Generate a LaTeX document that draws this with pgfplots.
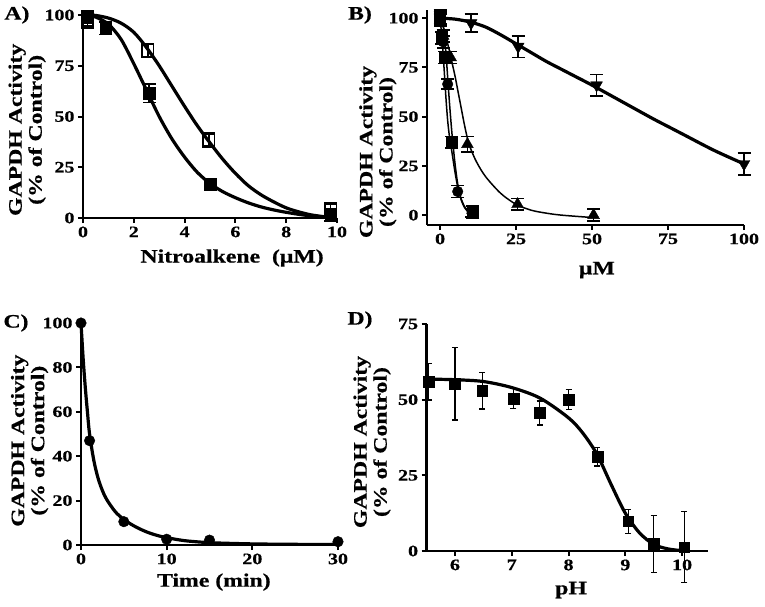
\documentclass[border=0pt]{standalone}
\usepackage{fontspec}
\setmainfont{Liberation Serif}[UprightFont=* Bold, FakeStretch=1.25, FakeBold=0.6]
\usepackage{pgfplots}
\pgfplotsset{compat=1.18}
\pgfplotsset{
  panel/.style={
    scale only axis, clip=false,
    axis x line*=bottom, axis y line*=left,
    axis line style={line width=2.4pt,-},
    every tick/.style={line width=2pt, black},
    major tick length=5pt, tick align=outside,
    tick label style={font=\fontsize{16}{16}\selectfont},
    label style={font=\fontsize{19}{20}\selectfont},
    ylabel style={align=center, anchor=center},
    xlabel style={anchor=center},
    /pgf/number format/assume math mode=true,
    ylabel={GAPDH Activity\\(\% of Control)},
  },
  fit/.style={black, line width=3.2pt, smooth, no marks},
  thinfit/.style={black, line width=1.5pt, smooth, no marks},
  eb/.style={only marks, black, error bars/y dir=both, error bars/y explicit,
    error bars/error bar style={line width=1.6pt, black},
    error bars/error mark options={rotate=90, mark size=6.5pt, line width=1.6pt, black}},
}
\begin{document}
\begin{tikzpicture}
\useasboundingbox (0pt,0pt) rectangle (765pt,606pt);
% ---------------- A ----------------
\begin{axis}[panel, at={(83pt,388pt)}, anchor=origin, width=254pt, height=205pt,
  xmin=0, xmax=10, ymin=0, ymax=101, xtick={0,2,4,6,8,10}, ytick={0,25,50,75,100},
  xlabel={Nitroalkene\ \ (μM)},
  ylabel style={at={(axis description cs:-0.22,0.43)}},
  xlabel style={at={(axis description cs:0.587,-0.195)}}]
\addplot[fit] coordinates {(0.17,100) (0.5,99.8) (1,98.5) (1.5,96) (2,91.5) (2.5,84) (3,75) (3.5,65) (4,55) (4.5,45.5) (5,37) (5.5,29) (6,22) (6.5,16) (7,11.5) (7.5,8) (8,5) (8.5,3) (9,1.5) (9.7,0.3)};
\addplot[fit] coordinates {(0.17,100) (0.5,99) (1,95.5) (1.5,88) (2,76) (2.5,63) (3,50) (3.5,39) (4,30) (4.5,22.5) (5,17) (5.5,13) (6,10) (6.5,7.5) (7,5.5) (7.5,4) (8,2.8) (8.5,1.8) (9,1) (9.7,0.3)};
\addplot[eb, mark=square*, mark size=5.8pt] coordinates {(0.17,99) +- (0,3) (0.9,93.5) +- (0,3) (2.6,61.5) +- (0,4.5) (5,16.5) +- (0,3) (9.75,1.5) +- (0,3)};
\addplot[eb, mark=square, mark size=5.8pt, mark options={fill=white, line width=1.5pt}] coordinates {(0.17,97.5) +- (0,4) (2.55,82.5) +- (0,3.5) (4.95,38.5) +- (0,3.5) (9.75,4) +- (0,3.5)};
\end{axis}
% ---------------- B ----------------
\begin{axis}[panel, at={(427pt,381pt)}, anchor=south west, width=317pt, height=214.7pt,
  xmin=-4.3, xmax=100, ymin=-5, ymax=104, xtick={0,25,50,75,100}, ytick={0,25,50,75,100},
  xlabel={μM},
  ylabel style={at={(axis description cs:-0.155,0.34)}},
  xlabel style={at={(axis description cs:0.536,-0.21)}}]
\addplot[fit] coordinates {(0,100) (5,99.5) (10,98) (15,95.5) (20,91.5) (25,87) (30,82.5) (35,78) (40,74) (45,70) (50,66) (60,57.5) (70,49) (75,45) (80,41) (90,33) (100,26)};
\addplot[thinfit] coordinates {(0,100) (1,96) (2,90) (3,84) (4,77) (5,70) (6,62) (7,54) (8,46) (9,39) (10,34) (12,27) (15,19.5) (20,11) (25,5.5) (30,2.5) (35,1) (40,0) (50,-1.2)};
\addplot[thinfit] coordinates {(0,100) (0.5,92) (1,82) (1.5,70) (2,58) (2.5,48) (3,41) (3.5,36) (4,31) (5,21) (6,13) (7,8) (8,4.5) (9,2.5) (10,1.2) (11,0.8)};
\addplot[thinfit] coordinates {(0,100) (1,96) (1.5,90) (2,81) (2.5,70) (3,59) (3.5,49) (4,40) (5,25) (6,14) (7,7.5) (8,4) (9,2) (10,0.8) (10.5,0.5)};
\addplot[eb, mark=triangle*, mark size=6.8pt, mark options={rotate=180}] coordinates {(0,100) +- (0,3) (10.2,97.5) +- (0,4.5) (25.7,85.6) +- (0,5.5) (51.5,66) +- (0,5.5) (100,26) +- (0,5.5)};
\addplot[eb, mark=triangle*, mark size=6.8pt] coordinates {(0,99) +- (0,3) (1,91) +- (0,3) (3.5,80) +- (0,3) (9,36) +- (0,4) (25.5,5.5) +- (0,3) (50.5,0) +- (0,3)};
\addplot[eb, mark=square*, mark size=5.5pt] coordinates {(0,100) +- (0,4) (0.5,90) +- (0,3) (1.5,80) +- (0,3) (3.8,37) +- (0,3) (10.8,1.5) +- (0,3)};
\addplot[eb, mark=*, mark size=5.3pt] coordinates {(0,100) +- (0,3) (1,88) +- (0,3) (2.5,66.5) +- (0,2.5) (5.8,12) +- (0,3) (10.5,1) +- (0,2)};
\end{axis}
% ---------------- C ----------------
\begin{axis}[panel, at={(81pt,61pt)}, anchor=origin, width=257pt, height=222pt,
  xmin=0, xmax=30, ymin=0, ymax=100, xtick={0,10,20,30}, ytick={0,20,40,60,80,100},
  xlabel={Time (min)},
  ylabel style={at={(axis description cs:-0.2,0.47)}},
  xlabel style={at={(axis description cs:0.517,-0.167)}}]
\addplot[fit] coordinates {(0,100) (0.25,84) (0.5,71) (0.75,60) (1,50) (1.5,38) (2,30) (2.5,24.5) (3,20.5) (4,15) (5,11.5) (6,9) (7,7) (8,5.4) (9,4.2) (10,3.3) (12,2) (14,1.3) (16,0.9) (20,0.5) (25,0.3) (30,0.3)};
\addplot[only marks, black, mark=*, mark size=5.3pt] coordinates {(0,100) (1,47) (5,10.5) (10,2.6) (15,2.2) (30,1.5)};
\end{axis}
% ---------------- D ----------------
\begin{axis}[panel, at={(426.6pt,55pt)}, anchor=origin, width=281pt, height=227pt,
  xmin=5.5, xmax=10.45, ymin=0, ymax=75, xtick={6,7,8,9,10}, ytick={0,25,50,75},
  xlabel={pH},
  ylabel style={at={(axis description cs:-0.194,0.48)}},
  xlabel style={at={(axis description cs:0.514,-0.172)}}]
\addplot[fit] coordinates {(5.5,56.8) (6,56.6) (6.5,56) (7,54) (7.5,50.5) (8,44) (8.25,39) (8.5,32) (8.75,22) (9,12.5) (9.25,6) (9.5,2.2) (9.75,0.7) (10,0.1) (10.05,0)};
\addplot[only marks, black, mark=square*, mark size=5.3pt, error bars/y dir=both, error bars/y explicit,
    error bars/error bar style={line width=1.1pt, black},
    error bars/error mark options={rotate=90, mark size=3pt, line width=1.3pt, black}]
  coordinates {(5.54,55.9) +- (0,6) (6.0,55.3) +- (0,12) (6.48,52.9) +- (0,6) (7.03,50.4) +- (0,3.3) (7.49,45.6) +- (0,4) (8.0,50) +- (0,3.3) (8.51,31.1) +- (0,3) (9.05,9.8) +- (0,4) (9.5,2.4) +- (0,9.4) (10.04,1.3) +- (0,11.8)};
\end{axis}
% panel letters
\node[font=\fontsize{19}{19}\selectfont, anchor=center] at (17pt,591pt) {A)};
\node[font=\fontsize{19}{19}\selectfont, anchor=center] at (360pt,591pt) {B)};
\node[font=\fontsize{19}{19}\selectfont, anchor=center] at (16pt,283pt) {C)};
\node[font=\fontsize{19}{19}\selectfont, anchor=center] at (360pt,286pt) {D)};
\end{tikzpicture}
\end{document}
